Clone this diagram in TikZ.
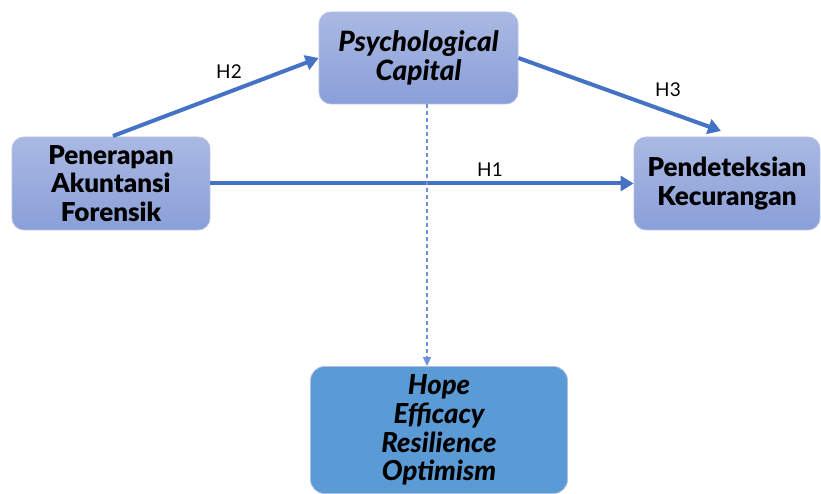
\documentclass[tikz,border=0pt]{standalone}
\usepackage{fontspec}
\setmainfont{Lato}[BoldFont={Lato Black},BoldItalicFont={Lato Black Italic}]
\usetikzlibrary{arrows.meta}
\definecolor{arrowblue}{HTML}{4472C4}
\definecolor{dashblue}{HTML}{6E93DA}
\definecolor{boxtop}{HTML}{AAB9E3}
\definecolor{boxbot}{HTML}{8A9FD8}
\definecolor{boxedge}{HTML}{B4C0E2}
\definecolor{darkbox}{HTML}{5B9BD5}
\tikzset{
  varbox/.style={draw=boxedge, line width=0.8pt, rounded corners=12pt, top color=boxtop, bottom color=boxbot,
    font=\fontsize{26}{28.5}\selectfont\bfseries, align=center, inner sep=0pt},
  italbox/.style={varbox, font=\fontsize{28}{29}\selectfont\bfseries\itshape},
  dimbox/.style={draw=boxedge, line width=0.8pt, rounded corners=14pt, fill=darkbox,
    font=\fontsize{27.5}{28.7}\selectfont\bfseries\itshape, align=center, inner sep=0pt},
  patharrow/.style={draw=arrowblue, line width=4pt, -{Triangle[length=13pt,width=15pt]}},
  dasharrow/.style={draw=dashblue, line width=1.6pt, dash pattern=on 4pt off 3pt, -{Triangle[length=9pt,width=8pt]}},
  hlabel/.style={font=\fontsize{19}{22}\selectfont, inner sep=0pt}
}
\begin{document}
\begin{tikzpicture}[x=1pt,y=-1pt]
\useasboundingbox (0,0) rectangle (821,494);
\node[varbox, minimum width=198pt, minimum height=93pt] (pen) at (111,183.5) {Penerapan\\Akuntansi\\Forensik};
\node[italbox, minimum width=199pt, minimum height=92pt] (psy) at (418.5,58) {Psychological\\Capital};
\node[varbox, minimum width=186pt, minimum height=93pt] (ked) at (727,183.5) {Pendeteksian\\Kecurangan};
\node[dimbox, minimum width=257pt, minimum height=127pt] (dim) at (439,430) {Hope\\Efficacy\\Resilience\\Optimism};
\coordinate (h2s) at (113,136);
\coordinate (h3e) at (721,131);
\draw[patharrow] (h2s) -- (psy.west);
\draw[patharrow] (pen.east) -- (ked.west);
\draw[patharrow] (psy.east) -- (h3e);
\draw[dasharrow] (psy.south -| 427,0) -- (dim.north -| 427,0);
\node[hlabel] (l2) at (229,72) {H2};
\node[hlabel] (l1) at (490,170) {H1};
\node[hlabel] (l3) at (668,90) {H3};
\end{tikzpicture}
\end{document}
